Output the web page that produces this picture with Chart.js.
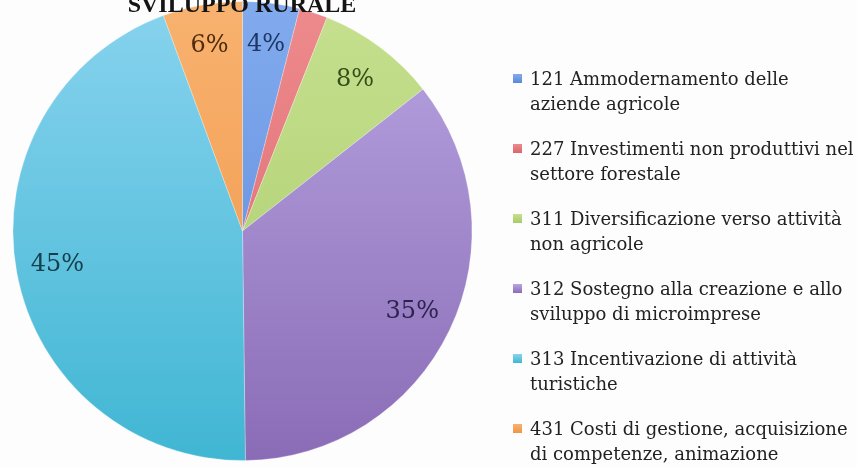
<!DOCTYPE html>
<html>
<head>
<meta charset="utf-8">
<script src="https://cdn.jsdelivr.net/npm/chart.js@4/dist/chart.umd.min.js"></script>
<style>
    body { margin: 0; background: #fdfdfd; }
    #wrap { position: relative; width: 857px; height: 468px; overflow: hidden; }
    #pie { position: absolute; left: 0; top: 0; }
    .item { position: absolute; left: 530px; font-family: 'DejaVu Serif', serif; font-size: 18px; line-height: 25px; color: #222; white-space: nowrap; }
    .box { position: absolute; left: -17px; top: 8px; width: 9px; height: 9px; }
</style>
</head>
<body>
<div id="wrap">
    <canvas id="pie" width="857" height="468"></canvas>
    <div id="legend"></div>
</div>
<script>
const categories = ['121', '227', '311', '312', '313', '431'];
const legendLines = [
    ['121 Ammodernamento delle', 'aziende agricole'],
    ['227 Investimenti non produttivi nel', 'settore forestale'],
    ['311 Diversificazione verso attività', 'non agricole'],
    ['312 Sostegno alla creazione e allo', 'sviluppo di microimprese'],
    ['313 Incentivazione di attività', 'turistiche'],
    ['431 Costi di gestione, acquisizione', 'di competenze, animazione']
];
const shares = [4.0, 2.0, 8.4, 35.4, 44.6, 5.6];
const lightColors = ['#82abee', '#ee8a8d', '#c6e08f', '#b8a5e2', '#88d3ee', '#f8b26f'];
const darkColors = ['#5a87d8', '#d9666a', '#a8cb69', '#8a6cb6', '#40b6d3', '#ef9446'];
const labelColors = ['#1d3766', '#6a1f22', '#34501a', '#2f2250', '#17404f', '#4f2c0c'];

// legend on the right, built from the arrays
const legend = document.getElementById('legend');
legendLines.forEach((lines, i) => {
    const div = document.createElement('div');
    div.className = 'item';
    div.style.top = (66 + i * 70) + 'px';
    div.innerHTML = lines.join('<br>');
    const box = document.createElement('span');
    box.className = 'box';
    box.style.background = `linear-gradient(${lightColors[i]}, ${darkColors[i]})`;
    div.appendChild(box);
    legend.appendChild(div);
});

function sliceFill(context) {
    const i = context.dataIndex;
    const area = context.chart.chartArea;
    if (!area) return darkColors[i];
    const g = context.chart.ctx.createLinearGradient(0, area.top, 0, area.bottom);
    g.addColorStop(0, lightColors[i]);
    g.addColorStop(1, darkColors[i]);
    return g;
}

// percent labels drawn inside the slices
const pctLabels = {
    id: 'pctLabels',
    afterDatasetsDraw(chart) {
        const ctx = chart.ctx;
        const meta = chart.getDatasetMeta(0);
        const total = shares.reduce((a, b) => a + b, 0);
        ctx.save();
        ctx.font = '24px "DejaVu Serif", serif';
        ctx.textAlign = 'center';
        ctx.textBaseline = 'middle';
        meta.data.forEach((arc, i) => {
            const pct = Math.round(shares[i] / total * 100);
            if (pct < 3) return;
            const p = arc.getProps(['x', 'y', 'startAngle', 'endAngle', 'outerRadius'], true);
            const mid = (p.startAngle + p.endAngle) / 2;
            const r = p.outerRadius * 0.82;
            ctx.fillStyle = labelColors[i];
            ctx.fillText(pct + '%', p.x + Math.cos(mid) * r, p.y + Math.sin(mid) * r);
        });
        // title, partly cut off at the top of the picture
        ctx.font = 'bold 24px "Liberation Serif", serif';
        ctx.fillStyle = '#141414';
        ctx.textBaseline = 'alphabetic';
        ctx.fillText('SVILUPPO RURALE', 242, 12);
        ctx.restore();
    }
};

new Chart(document.getElementById('pie').getContext('2d'), {
    type: 'pie',
    data: {
        labels: categories,
        datasets: [{
            data: shares,
            backgroundColor: sliceFill,
            borderColor: 'rgba(255,255,255,0.25)',
            borderWidth: 1
        }]
    },
    options: {
        responsive: false,
        animation: false,
        layout: {
            padding: { left: 12, top: 1, right: 384, bottom: 7 }
        },
        plugins: {
            legend: { display: false },
            tooltip: { enabled: false }
        }
    },
    plugins: [pctLabels]
});
</script>
</body>
</html>
